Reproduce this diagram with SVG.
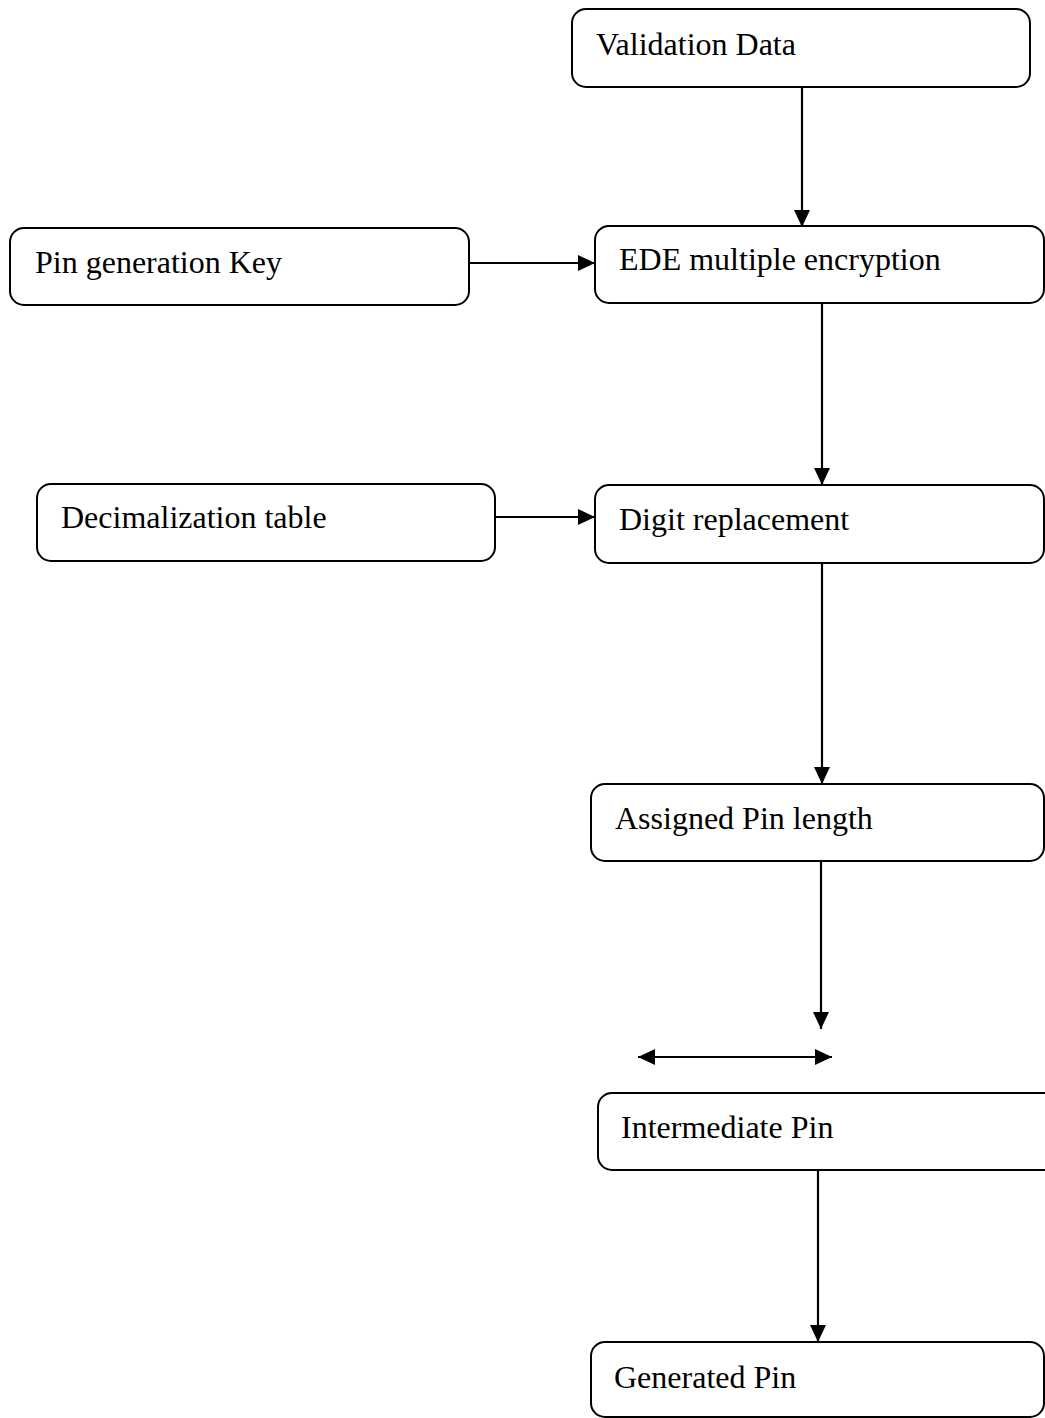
<svg xmlns="http://www.w3.org/2000/svg" width="1045" height="1418" viewBox="0 0 1045 1418">
  <style>
    .box { fill: #ffffff; stroke: #000000; stroke-width: 2; }
    .label { font-family: "Liberation Serif", "Times New Roman", serif; font-size: 32px; fill: #000000; }
    .wire { stroke: #000000; stroke-width: 2.2; fill: none; }
  </style>
  <defs>
    <!-- filled triangular arrowhead, reversed at line starts -->
    <marker id="head" viewBox="0 0 17 16" refX="17" refY="8" markerWidth="17" markerHeight="16" markerUnits="userSpaceOnUse" orient="auto-start-reverse">
      <path d="M0,0 L17,8 L0,16 Z" fill="#000000"/>
    </marker>
  </defs>
  <rect width="1045" height="1418" fill="#ffffff"/>

  <g id="connectors">
    <line class="wire" x1="802" y1="87" x2="802" y2="227" marker-end="url(#head)"/>
    <line class="wire" x1="469" y1="263" x2="595" y2="263" marker-end="url(#head)"/>
    <line class="wire" x1="822" y1="303" x2="822" y2="485" marker-end="url(#head)"/>
    <line class="wire" x1="493" y1="517" x2="595" y2="517" marker-end="url(#head)"/>
    <line class="wire" x1="822" y1="563" x2="822" y2="784" marker-end="url(#head)"/>
    <line class="wire" x1="821" y1="861" x2="821" y2="1029" marker-end="url(#head)"/>
    <line class="wire" x1="638" y1="1057" x2="832" y2="1057" marker-start="url(#head)" marker-end="url(#head)"/>
    <line class="wire" x1="818" y1="1170" x2="818" y2="1342" marker-end="url(#head)"/>
  </g>

  <g id="validation-data">
    <rect class="box" x="572" y="9" width="458" height="78" rx="14"/>
    <text class="label" x="596" y="55">Validation Data</text>
  </g>
  <g id="pin-generation-key">
    <rect class="box" x="10" y="228" width="459" height="77" rx="14"/>
    <text class="label" x="35" y="273">Pin generation Key</text>
  </g>
  <g id="ede-multiple-encryption">
    <rect class="box" x="595" y="226" width="449" height="77" rx="14"/>
    <text class="label" x="619" y="270">EDE multiple encryption</text>
  </g>
  <g id="decimalization-table">
    <rect class="box" x="37" y="484" width="458" height="77" rx="14"/>
    <text class="label" x="61" y="528">Decimalization table</text>
  </g>
  <g id="digit-replacement">
    <rect class="box" x="595" y="485" width="449" height="78" rx="14"/>
    <text class="label" x="619" y="530">Digit replacement</text>
  </g>
  <g id="assigned-pin-length">
    <rect class="box" x="591" y="784" width="453" height="77" rx="14"/>
    <text class="label" x="615" y="829">Assigned Pin length</text>
  </g>
  <g id="intermediate-pin">
    <rect class="box" x="598" y="1093" width="460" height="77" rx="14"/>
    <text class="label" x="621" y="1138">Intermediate Pin</text>
  </g>
  <g id="generated-pin">
    <rect class="box" x="591" y="1342" width="453" height="75" rx="14"/>
    <text class="label" x="614" y="1388">Generated Pin</text>
  </g>
</svg>
